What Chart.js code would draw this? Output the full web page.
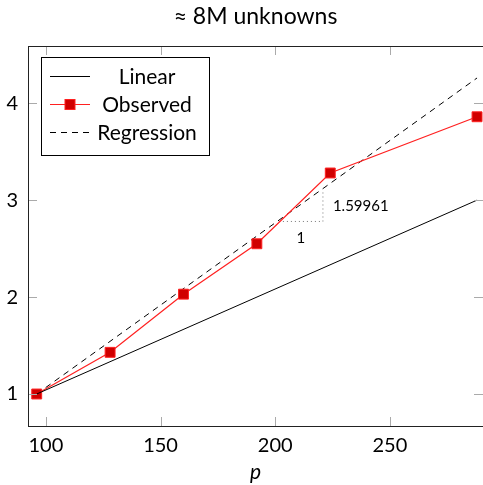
<!DOCTYPE html>
<html>
<head>
<meta charset="utf-8">
<script src="https://cdn.jsdelivr.net/npm/chart.js@4.4.1/dist/chart.umd.min.js"></script>
<style>
  html, body { margin: 0; padding: 0; background: #fff; }
  #wrap { width: 483px; height: 485px; }
</style>
</head>
<body>
<div id="wrap"><canvas id="chart" width="483" height="485"></canvas></div>
<script>
// chart values
const pValues = [96, 128, 160, 192, 224, 288];
const observed = [1.00, 1.43, 2.03, 2.55, 3.28, 3.86];
const linearX = [96, 288];
const linearY = [1, 3];
const regressionX = [96, 288];
const regressionY = [1.0, 4.26];
const slopeX = [201.6, 220.8, 220.8];
const slopeY = [2.78, 2.78, 3.10];
const slopeLabel = '1.59961';
const xTicks = [100, 150, 200, 250];
const yTicks = [1, 2, 3, 4];

const FONT = 'Lato, "DejaVu Sans", sans-serif';

function pts(xs, ys) {
    return xs.map((x, i) => ({ x: x, y: ys[i] }));
}

// inside ticks, frame, slope labels and legend
const decor = {
    id: 'decor',
    afterDatasetsDraw(chart) {
        const ctx = chart.ctx;
        const a = chart.chartArea;
        const xs = chart.scales.x, ys = chart.scales.y;
        ctx.save();

        // tick marks pointing inward
        ctx.strokeStyle = '#aaaaaa';
        ctx.lineWidth = 1;
        ctx.beginPath();
        xTicks.forEach(v => {
            const px = Math.round(xs.getPixelForValue(v)) + 0.5;
            ctx.moveTo(px, a.bottom); ctx.lineTo(px, a.bottom - 9);
            ctx.moveTo(px, a.top); ctx.lineTo(px, a.top + 9);
        });
        yTicks.forEach(v => {
            const py = Math.round(ys.getPixelForValue(v)) + 0.5;
            ctx.moveTo(a.left, py); ctx.lineTo(a.left + 9, py);
            ctx.moveTo(a.right, py); ctx.lineTo(a.right - 9, py);
        });
        ctx.stroke();

        // frame
        ctx.strokeStyle = '#222';
        ctx.strokeRect(Math.round(a.left) + 0.5, Math.round(a.top) + 0.5,
            Math.round(a.right - a.left), Math.round(a.bottom - a.top));

        // slope triangle labels
        ctx.fillStyle = '#000';
        ctx.font = '15px ' + FONT;
        ctx.textBaseline = 'middle';
        ctx.textAlign = 'center';
        const midX = xs.getPixelForValue((slopeX[0] + slopeX[1]) / 2);
        ctx.fillText('1', midX, ys.getPixelForValue(slopeY[0]) + 17);
        ctx.textAlign = 'left';
        ctx.fillText(slopeLabel, xs.getPixelForValue(slopeX[1]) + 10,
            ys.getPixelForValue((slopeY[1] + slopeY[2]) / 2));

        // legend
        const bx = 41.5, by = 57.5, bw = 168, bh = 98;
        ctx.fillStyle = '#fff';
        ctx.fillRect(bx, by, bw, bh);
        ctx.strokeStyle = '#000';
        ctx.strokeRect(bx, by, bw, bh);
        ctx.font = '21px ' + FONT;
        ctx.textAlign = 'center';
        const rows = [76, 104, 132];
        [0, 1, 2].forEach((di, i) => {
            const ds = chart.data.datasets[di];
            const y = rows[i] + 0.5;
            ctx.strokeStyle = ds.borderColor;
            ctx.lineWidth = 1;
            ctx.setLineDash(ds.borderDash || []);
            ctx.beginPath();
            ctx.moveTo(50, y); ctx.lineTo(90, y);
            ctx.stroke();
            ctx.setLineDash([]);
            if (ds.pointRadius > 0) {
                ctx.fillStyle = ds.pointBackgroundColor;
                ctx.fillRect(65, y - 5, 10, 10);
                ctx.strokeStyle = ds.pointBorderColor;
                ctx.strokeRect(65, y - 5, 10, 10);
            }
            ctx.fillStyle = '#000';
            ctx.fillText(ds.label, 147, rows[i] + 1);
        });
        ctx.restore();
    }
};

new Chart(document.getElementById('chart'), {
    type: 'line',
    data: {
        datasets: [
            {
                label: 'Linear',
                data: pts(linearX, linearY),
                borderColor: '#000',
                borderWidth: 1,
                pointRadius: 0,
                fill: false
            },
            {
                label: 'Observed',
                data: pts(pValues, observed),
                borderColor: '#ff2020',
                borderWidth: 1.2,
                pointStyle: 'rect',
                pointRadius: 7,
                pointBackgroundColor: '#d00000',
                pointBorderColor: '#ff2020',
                pointBorderWidth: 1,
                fill: false
            },
            {
                label: 'Regression',
                data: pts(regressionX, regressionY),
                borderColor: '#000',
                borderWidth: 1,
                borderDash: [6, 5],
                pointRadius: 0,
                fill: false
            },
            {
                label: 'slope',
                data: pts(slopeX, slopeY),
                borderColor: '#777',
                borderWidth: 1,
                borderDash: [1, 3],
                pointRadius: 0,
                fill: false
            }
        ]
    },
    options: {
        responsive: false,
        animation: false,
        layout: { autoPadding: false, padding: 0 },
        plugins: {
            legend: { display: false },
            tooltip: { enabled: false },
            title: {
                display: true,
                fullSize: false,
                text: '≈ 8M unknowns',
                color: '#000',
                font: { family: FONT, size: 23, weight: 'normal' },
                padding: { top: 3, bottom: 15.4 }
            }
        },
        scales: {
            x: {
                type: 'linear',
                min: 92.2,
                max: 290.6,
                afterBuildTicks: s => { s.ticks = xTicks.map(v => ({ value: v })); },
                afterFit: s => { s.height = 59; s.paddingLeft = 0; s.paddingRight = 0; },
                grid: { display: false, drawTicks: false },
                border: { display: false },
                ticks: {
                    color: '#000',
                    padding: 8,
                    font: { family: FONT, size: 20 }
                },
                title: {
                    display: true,
                    text: 'p',
                    color: '#000',
                    padding: { top: 4, bottom: 0 },
                    font: { family: FONT, size: 21, style: 'italic' }
                }
            },
            y: {
                type: 'linear',
                min: 0.67,
                max: 4.59,
                afterBuildTicks: s => { s.ticks = yTicks.map(v => ({ value: v })); },
                afterFit: s => { s.width = 28; s.paddingTop = 0; s.paddingBottom = 0; },
                grid: { display: false, drawTicks: false },
                border: { display: false },
                ticks: {
                    color: '#000',
                    padding: 10,
                    font: { family: FONT, size: 20 }
                }
            }
        }
    },
    plugins: [decor]
});
</script>
</body>
</html>
